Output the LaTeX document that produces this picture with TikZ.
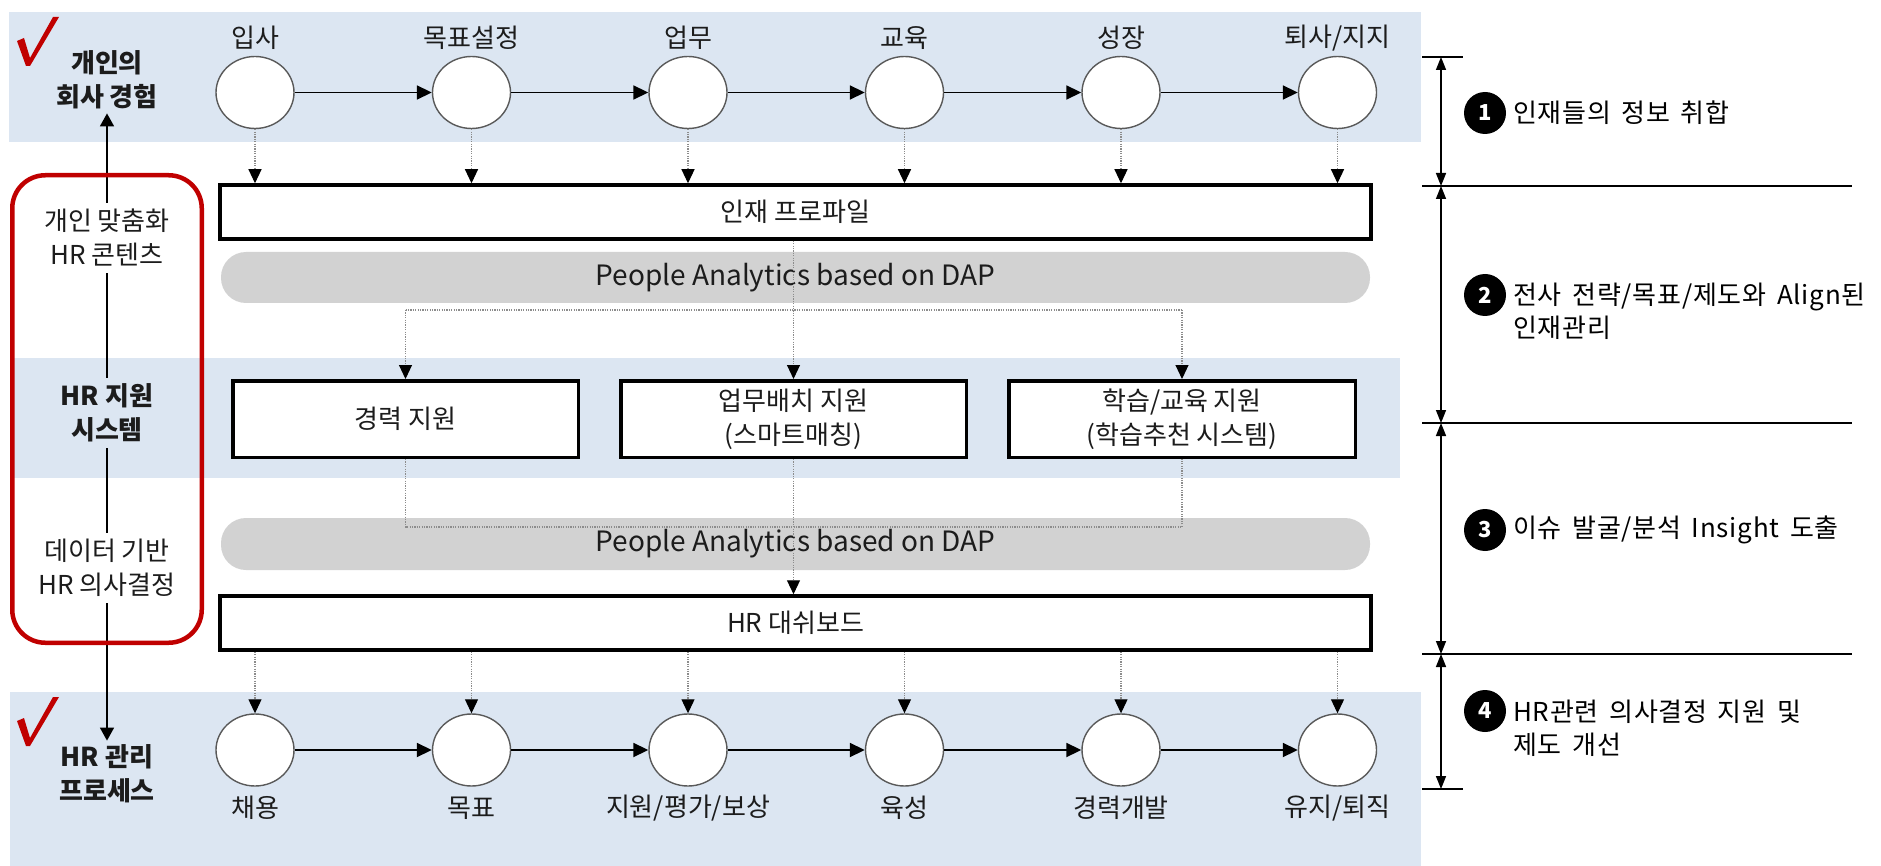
\documentclass[tikz,border=0pt]{standalone}
\usepackage{fontspec}
\setmainfont{Noto Sans CJK KR}
\newfontfamily\notefont{Noto Sans CJK KR}[LetterSpace=3,WordSpace=1.6]
\usetikzlibrary{shapes.geometric,arrows.meta}
\definecolor{band}{RGB}{220,230,242}
\definecolor{pillgray}{RGB}{210,210,210}
\definecolor{redbox}{RGB}{192,0,0}
\definecolor{txt}{RGB}{28,28,28}
\begin{document}
\begin{tikzpicture}[x=1pt,y=-1pt,
  every node/.style={text=txt, font=\fontsize{26}{34}\selectfont},
  stage/.style={ellipse, draw=black!65, line width=1.4pt, fill=white, minimum width=78pt, minimum height=72pt, inner sep=0pt},
  flowarrow/.style={line width=1.8pt, -{Triangle[length=15pt,width=14pt]}},
  dotline/.style={draw=black!45, line width=1.1pt, dash pattern=on 1.2pt off 1.2pt},
  dotarrow/.style={dotline, -{Triangle[length=14pt,width=13pt,color=black]}},
  bigbox/.style={rectangle, draw=black, line width=3.5pt, fill=white, inner sep=0pt, align=center},
  pill/.style={rectangle, fill=pillgray, rounded corners=25pt, inner sep=0pt, font=\fontsize{28}{34}\selectfont},
  lefthead/.style={align=center, inner sep=4pt, font=\fontsize{26}{34}\selectfont\bfseries},
  leftsub/.style={align=center, inner sep=2pt, minimum height=70pt},
  leftline/.style={line width=1.6pt, {Triangle[length=13pt,width=14pt]}-{Triangle[length=13pt,width=14pt]}},
  dimarrow/.style={line width=1.6pt, {Triangle[length=13pt,width=10pt]}-{Triangle[length=13pt,width=10pt]}},
  tick/.style={line width=1.5pt},
  numc/.style={circle, fill=black, minimum size=42pt, inner sep=0pt, text=white, font=\fontsize{22}{22}\selectfont\bfseries},
  note/.style={anchor=west, inner sep=0pt, align=left, text=black, font=\notefont\fontsize{26}{33}\selectfont}
]
\useasboundingbox (0,0) rectangle (1881,866);

% bands
\fill[band] (9,12) rectangle (1421,142);
\fill[band] (10,358) rectangle (1400,478);
\fill[band] (10,692) rectangle (1421,866);

% analytics pills
\node[pill, minimum width=1149pt, minimum height=51pt] (pa1) at (795.5,277.5) {People Analytics based on DAP};
\node[pill, minimum width=1149pt, minimum height=52pt] (pa2) at (795.5,544) {People Analytics based on DAP};

% boxes
\node[bigbox, minimum width=1151pt, minimum height=54pt] (prof) at (795.5,212) {인재 프로파일};
\node[bigbox, minimum width=345.5pt, minimum height=76.5pt] (box1) at (405.5,419) {경력 지원};
\node[bigbox, minimum width=345.5pt, minimum height=76.5pt] (box2) at (793.5,419) {업무배치 지원\\(스마트매칭)};
\node[bigbox, minimum width=346.5pt, minimum height=76.5pt] (box3) at (1182,419) {학습/교육 지원\\(학습추천 시스템)};
\node[bigbox, minimum width=1151pt, minimum height=54pt] (dash) at (795.5,623) {HR 대쉬보드};

% dotted connectors in the middle
\coordinate (ya) at (0,310);
\coordinate (yb) at (0,527);
\draw[dotline] (box1.north |- ya) -- (box3.north |- ya);
\draw[dotarrow] (box1.north |- ya) -- (box1.north);
\draw[dotarrow] (box3.north |- ya) -- (box3.north);
\draw[dotarrow] (box2.north |- prof.south) -- (box2.north);
\draw[dotline] (box1.south) -- (box1.south |- yb) -- (box3.south |- yb) -- (box3.south);
\draw[dotarrow] (box2.south) -- (box2.south |- dash.north);

% stage circles
\foreach \i/\x in {1/255,2/471.5,3/688,4/904.5,5/1121,6/1337.5} {
  \node[stage] (t\i) at (\x,92.5) {};
  \node[stage] (b\i) at (\x,750) {};
  \draw[dotarrow] (t\i.south) -- (t\i.south |- prof.north);
  \draw[dotarrow] (b\i.north |- dash.south) -- (b\i.north);
}
\foreach \i/\j in {1/2,2/3,3/4,4/5,5/6} {
  \draw[flowarrow] (t\i) -- (t\j);
  \draw[flowarrow] (b\i) -- (b\j);
}

% stage labels
\node (lt1) at (255,38) {입사};
\node (lt2) at (471.5,38) {목표설정};
\node (lt3) at (688,38) {업무};
\node (lt4) at (904.5,38) {교육};
\node (lt5) at (1121,38) {성장};
\node (lt6) at (1337.5,38) {퇴사/지지};
\node (lb1) at (255,808) {채용};
\node (lb2) at (471.5,808) {목표};
\node (lb3) at (688,808) {지원/평가/보상};
\node (lb4) at (904.5,808) {육성};
\node (lb5) at (1121,808) {경력개발};
\node (lb6) at (1337.5,808) {유지/퇴직};

% left column
\node[lefthead] (l1) at (107,80) {개인의\\회사 경험};
\node[lefthead] (l5) at (107,774) {HR 관리\\프로세스};
\draw[leftline] (l1.south) -- (l5.north);
\node[leftsub, fill=white] (l2) at (107,238) {개인 맞춤화\\HR 콘텐츠};
\node[leftsub, fill=band, font=\fontsize{26}{34}\selectfont\bfseries] (l3) at (107,413) {HR 지원\\시스템};
\node[leftsub, fill=white] (l4) at (107,567.5) {데이터 기반\\HR 의사결정};

% red frame
\draw[redbox, line width=4.5pt, rounded corners=33pt] (12.25,175.25) rectangle (201.75,642.75);

% check marks
\fill[redbox] (17,41) -- (24,38) -- (30,58) -- (53,17) -- (59,17) -- (30,66) -- (26,66) -- cycle;
\fill[redbox] (17,721) -- (24,718) -- (30,738) -- (53,697) -- (59,697) -- (30,746) -- (26,746) -- cycle;

% dimension lines on the right
\coordinate (d0) at (1441,57);
\coordinate (d1) at (1441,186);
\coordinate (d2) at (1441,423);
\coordinate (d3) at (1441,654);
\coordinate (d4) at (1441,789);
\draw[tick] (1422,57) -- (1463,57);
\draw[tick] (1422,186) -- (1852,186);
\draw[tick] (1422,423) -- (1852,423);
\draw[tick] (1422,654) -- (1852,654);
\draw[tick] (1422,789) -- (1463,789);
\draw[dimarrow] (d0) -- (d1);
\draw[dimarrow] (d1) -- (d2);
\draw[dimarrow] (d2) -- (d3);
\draw[dimarrow] (d3) -- (d4);

% numbered notes
\node[numc] (c1) at (1485,113) {1};
\node[numc] (c2) at (1485,295) {2};
\node[numc] (c3) at (1485,530) {3};
\node[numc] (c4) at (1485,711) {4};
\node[note] (n1) at (1513,113) {인재들의 정보 취합};
\node[note] (n2) at (1513,311) {전사 전략/목표/제도와 Align된\\인재관리};
\node[note] (n3) at (1513,530) {이슈 발굴/분석 Insight 도출};
\node[note] (n4) at (1513,728) {HR관련 의사결정 지원 및\\제도 개선};
\end{tikzpicture}
\end{document}
